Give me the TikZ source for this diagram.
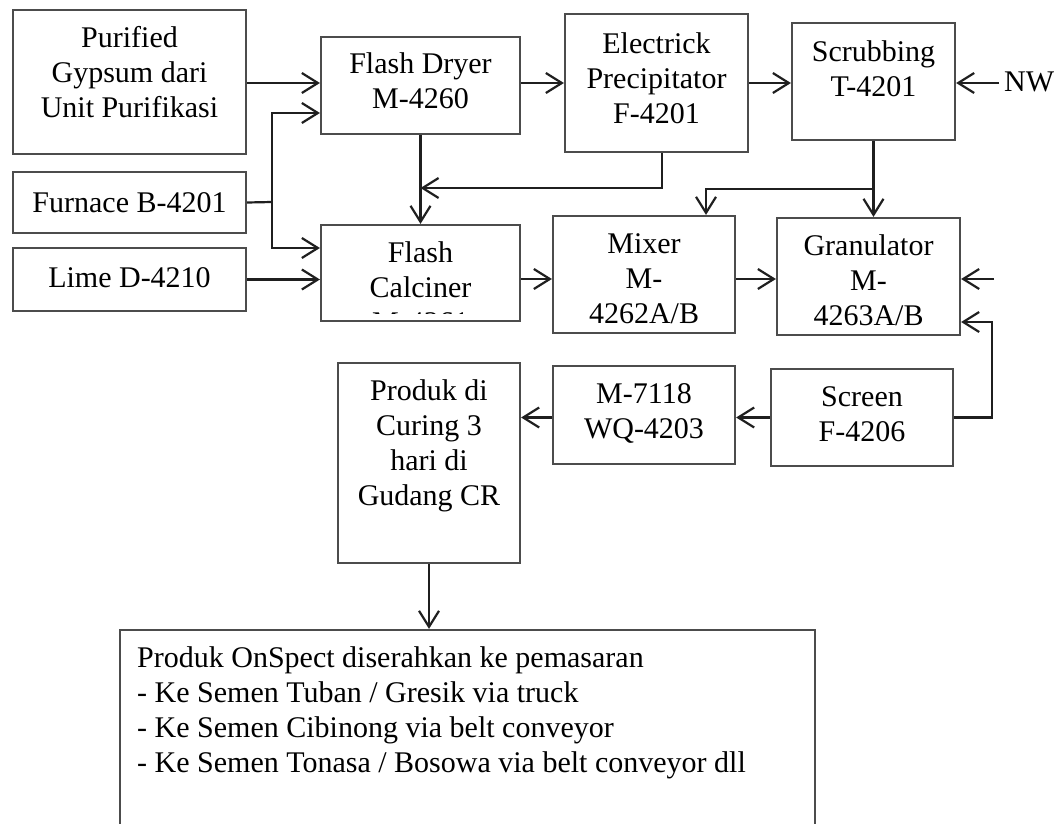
\documentclass[tikz,border=0pt]{standalone}
\usepackage{fontspec}
\setmainfont{Liberation Serif}
\usetikzlibrary{arrows.meta,calc}
\newcommand\firstl{\rule{0pt}{26pt}}
\begin{document}
\begin{tikzpicture}[x=1pt,y=-1pt,
  box/.style={draw=black!70, line width=2.2pt, rectangle, inner sep=0pt},
  ln/.style={draw=black!88, line width=2.2pt},
  arr/.style={ln, -{Straight Barb[length=16pt,width=20pt]}},
  txt/.style={align=center, inner sep=0pt, anchor=north, font={\fontsize{30}{35}\selectfont}},
]
\useasboundingbox (0,0) rectangle (1060,824);
\clip (0,0) rectangle (1060,824);
\fill[white] (0,0) rectangle (1060,824);

% boxes
\node[box, minimum width=233pt, minimum height=144pt] (pur) at (129.5,82) {};
\node[box, minimum width=199pt, minimum height=97pt] (fd) at (420.5,85.5) {};
\node[box, minimum width=183pt, minimum height=138pt] (esp) at (656.5,83) {};
\node[box, minimum width=163pt, minimum height=117pt] (scr) at (873.5,81.5) {};
\node[box, minimum width=233pt, minimum height=61pt] (fur) at (129.5,202.5) {};
\node[box, minimum width=233pt, minimum height=63pt] (lime) at (129.5,279.5) {};
\node[box, minimum width=199pt, minimum height=96pt] (calc) at (420.5,273) {};
\node[box, minimum width=182pt, minimum height=117pt] (mix) at (644,274.5) {};
\node[box, minimum width=183pt, minimum height=117pt] (gran) at (868.5,276.5) {};
\node[box, minimum width=182pt, minimum height=200pt] (prod) at (429,463) {};
\node[box, minimum width=182pt, minimum height=98pt] (m71) at (644,415) {};
\node[box, minimum width=182pt, minimum height=97pt] (scrn) at (862,417.5) {};
\node[box, minimum width=695pt, minimum height=240pt] (out) at (467.5,750) {};

% texts
\node[txt] (purt) at (129.5,21) {\firstl Purified\\Gypsum dari\\Unit Purifikasi};
\node[txt] (fdt) at (420.5,47) {\firstl Flash Dryer\\M-4260};
\node[txt] (espt) at (656.5,27) {\firstl Electrick\\Precipitator\\F-4201};
\node[txt] (scrt) at (873.5,35) {\firstl Scrubbing\\T-4201};
\node[txt] (furt) at (129.5,186) {\firstl Furnace B-4201};
\node[txt] (limet) at (129.5,261) {\firstl Lime D-4210};
\begin{scope}
\clip (321,225) rectangle (520,313.5);
\node[txt] (calct) at (420.5,236) {\firstl Flash\\Calciner\\M-4261};
\end{scope}
\node[txt] (mixt) at (644,227) {\firstl Mixer\\M-\\4262A/B};
\node[txt] (grant) at (868.5,229) {\firstl Granulator\\M-\\4263A/B};
\node[txt] (prodt) at (429,374) {\firstl Produk di\\Curing 3\\hari di\\Gudang CR};
\node[txt] (m71t) at (644,377) {\firstl M-7118\\WQ-4203};
\node[txt] (scrnt) at (862,380) {\firstl Screen\\F-4206};
\node[txt, align=left, anchor=north west] (outt) at (137,641) {\firstl Produk OnSpect diserahkan ke pemasaran\\- Ke Semen Tuban / Gresik via truck\\- Ke Semen Cibinong via belt conveyor\\- Ke Semen Tonasa / Bosowa via belt conveyor dll};
\node[txt, anchor=base west] (nw) at (1004,92) {NW};

% helper coordinates
\coordinate (y83) at (0,83);
\coordinate (y113) at (0,113);
\coordinate (y248) at (0,248);
\coordinate (y279) at (0,279);
\coordinate (y188) at (0,188);
\coordinate (y189) at (0,189);
\coordinate (jf) at (272,202);
\coordinate (nwt) at (999,83);
\coordinate (gin) at (994,279);
\coordinate (rt) at (992,322);

% connectors
\draw[arr] (pur.east |- y83) -- (fd.west |- y83);
\draw[arr] (fd.east |- y83) -- (esp.west |- y83);
\draw[arr] (esp.east |- y83) -- (scr.west |- y83);
\draw[arr] (nwt) -- (scr.east |- nwt);
\draw[ln] (fur.east) -- (jf);
\draw[arr] (jf) |- (fd.west |- y113);
\draw[arr] (jf) |- (calc.west |- y248);
\draw[arr] (lime.east) -- (calc.west |- lime.east);
\draw[arr] (fd.south) -- (calc.north);
\draw[arr] ([xshift=5.5pt]esp.south) |- (fd.south |- y188);
\draw[arr] (scr.south) -- (scr.south |- gran.north);
\draw[arr] (scr.south |- y189) -| ([xshift=62pt]mix.north);
\draw[arr] (calc.east |- y279) -- (mix.west |- y279);
\draw[arr] (mix.east |- y279) -- (gran.west |- y279);
\draw[arr] (gin) -- (gran.east |- gin);
\draw[arr] (scrn.east) -| (rt) -- (gran.east |- rt);
\draw[arr] (scrn.west) -- (m71.east |- scrn.west);
\draw[arr] (m71.west |- scrn.west) -- (prod.east |- scrn.west);
\draw[arr] (prod.south) -- (prod.south |- out.north);
\end{tikzpicture}
\end{document}
